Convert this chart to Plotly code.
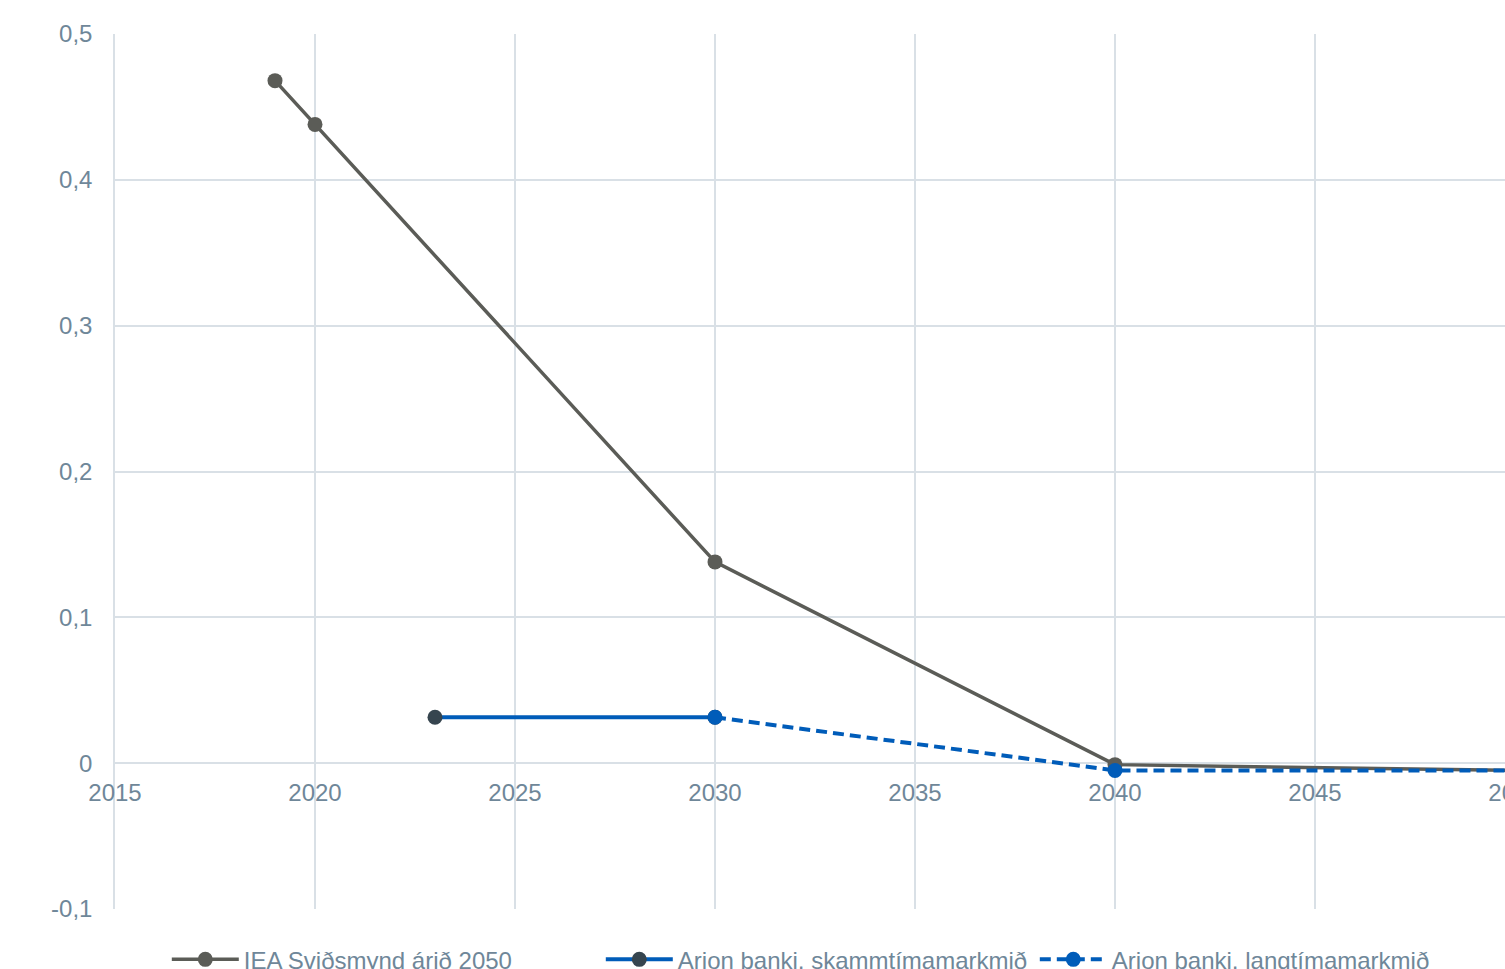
import plotly.graph_objects as go

# --- data ---
iea_years = [2019, 2020, 2030, 2040, 2050]
iea_values = [0.468, 0.438, 0.138, -0.001, -0.005]

short_years = [2023, 2030]
short_values = [0.0315, 0.0315]

long_years = [2030, 2040, 2050]
long_values = [0.0315, -0.005, -0.005]

x_ticks = [2015, 2020, 2025, 2030, 2035, 2040, 2045, 2050]
y_ticks = [-0.1, 0, 0.1, 0.2, 0.3, 0.4, 0.5]
y_ticktext = ["-0,1", "0", "0,1", "0,2", "0,3", "0,4", "0,5"]

names = ["IEA Sviðsmynd árið 2050", "Arion banki, skammtímamarkmið", "Arion banki, langtímamarkmið"]

GRAY = "#5b5c57"
BLUE = "#005cb9"
DARK = "#36454f"
TEXT = "#6f8799"
GRID = "#d9e0e6"
FONT = "Liberation Sans, Arial, sans-serif"

fig = go.Figure()
fig.add_trace(go.Scatter(x=iea_years, y=iea_values, name=names[0], mode="lines+markers",
                         line=dict(color=GRAY, width=3.5), marker=dict(color=GRAY, size=15)))
fig.add_trace(go.Scatter(x=short_years, y=short_values, name=names[1], mode="lines+markers",
                         line=dict(color=BLUE, width=4), marker=dict(color=DARK, size=15)))
fig.add_trace(go.Scatter(x=long_years, y=long_values, name=names[2], mode="lines+markers",
                         line=dict(color=BLUE, width=4, dash="11px,6px"), marker=dict(color=BLUE, size=15)))

fig.update_layout(
    width=1575, height=969,
    margin=dict(l=115, r=60, t=34, b=60, autoexpand=False),
    plot_bgcolor="white", paper_bgcolor="white",
    font=dict(family=FONT, size=24, color=TEXT),
    separators=", ",
    showlegend=True,
    legend=dict(orientation="h", x=0.037, xanchor="left", y=-0.058, yanchor="middle",
                itemwidth=67, entrywidth=352, entrywidthmode="pixels",
                font=dict(size=24, color=TEXT), traceorder="normal"),
    xaxis=dict(range=[2015, 2050], tickvals=x_ticks, showgrid=True, gridcolor=GRID, gridwidth=1.5,
               zeroline=False, showline=False, anchor="free", position=1/6,
               ticks="outside", ticklen=8, tickcolor="rgba(0,0,0,0)", tickfont=dict(size=24, color=TEXT)),
    yaxis=dict(range=[-0.1, 0.5], tickvals=y_ticks, ticktext=y_ticktext, showgrid=True, gridcolor=GRID,
               gridwidth=1.5, zeroline=True, zerolinecolor=GRID, zerolinewidth=1.5,
               showline=True, linecolor=GRID, linewidth=1.5,
               ticks="outside", ticklen=16, tickcolor="rgba(0,0,0,0)", tickfont=dict(size=24, color=TEXT)),
)

fig.write_html("out.html", config={"displayModeBar": False},
               post_script="document.body.style.margin='0';document.body.style.overflow='hidden';")
